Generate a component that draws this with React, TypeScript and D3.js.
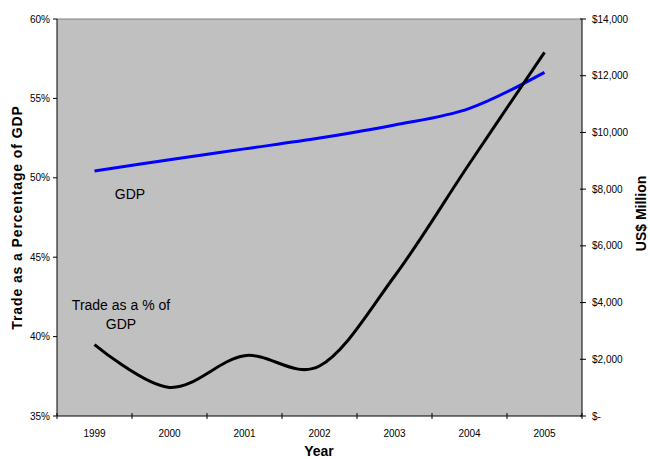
import React from "react";
import * as d3 from "d3";

const years = ["1999", "2000", "2001", "2002", "2003", "2004", "2005"];
// Trade as a percentage of GDP (left axis, %)
const tradePct = [39.5, 36.8, 38.8, 38.15, 43.8, 50.9, 57.9];
// GDP in US$ million (right axis)
const gdpMillion = [8640, 9040, 9420, 9800, 10260, 10850, 12120];
const leftTicks = [35, 40, 45, 50, 55, 60];
const rightTicks = [0, 2000, 4000, 6000, 8000, 10000, 12000, 14000];

const W = 650;
const H = 459;
const plot = { left: 57, right: 582, top: 19, bottom: 416 };
const FONT = "'Liberation Sans', Arial, sans-serif";

export default function App() {
  const x = d3.scaleBand<string>().domain(years).range([plot.left, plot.right]);
  const cx = (y: string) => (x(y) as number) + x.bandwidth() / 2;
  const yL = d3.scaleLinear().domain([35, 60]).range([plot.bottom, plot.top]);
  const yR = d3.scaleLinear().domain([0, 14000]).range([plot.bottom, plot.top]);

  const curve = d3.curveCatmullRom.alpha(0);
  const tradeLine = d3
    .line<number>()
    .x((_, i) => cx(years[i]))
    .y((d) => yL(d))
    .curve(curve);
  const gdpLine = d3
    .line<number>()
    .x((_, i) => cx(years[i]))
    .y((d) => yR(d))
    .curve(curve);

  const fmtMoney = (v: number) => (v === 0 ? "$-" : "$" + d3.format(",")(v));
  const xTicks = [...years.map((y) => x(y) as number), plot.right];

  return (
    <svg
      width={W}
      height={H}
      style={{ position: "absolute", left: 0, top: 0, background: "#fff" }}
      fontFamily={FONT}
    >
      {/* plot area */}
      <rect
        x={plot.left}
        y={plot.top}
        width={plot.right - plot.left}
        height={plot.bottom - plot.top}
        fill="#C0C0C0"
      />
      <line x1={plot.left} x2={plot.right} y1={plot.top} y2={plot.top} stroke="#808080" strokeWidth={1} />

      {/* left axis */}
      <line x1={plot.left} x2={plot.left} y1={plot.top} y2={plot.bottom} stroke="#000" />
      {leftTicks.map((t) => (
        <g key={"l" + t}>
          <line x1={plot.left - 4} x2={plot.left} y1={yL(t)} y2={yL(t)} stroke="#000" />
          <text x={plot.left - 7} y={yL(t)} dy="0.35em" textAnchor="end" fontSize={10} fill="#000">
            {t}%
          </text>
        </g>
      ))}

      {/* right axis */}
      <line x1={plot.right} x2={plot.right} y1={plot.top} y2={plot.bottom} stroke="#000" />
      {rightTicks.map((t) => (
        <g key={"r" + t}>
          <line x1={plot.right - 2} x2={plot.right + 4} y1={yR(t)} y2={yR(t)} stroke="#000" />
          <text x={plot.right + 10} y={yR(t)} dy="0.35em" textAnchor="start" fontSize={10} fill="#000">
            {fmtMoney(t)}
          </text>
        </g>
      ))}

      {/* bottom axis */}
      <line x1={plot.left} x2={plot.right} y1={plot.bottom} y2={plot.bottom} stroke="#000" />
      {xTicks.map((t, i) => (
        <line key={"xt" + i} x1={t} x2={t} y1={plot.bottom - 3} y2={plot.bottom + 3} stroke="#000" />
      ))}
      {years.map((y) => (
        <text key={"xl" + y} x={cx(y)} y={437} textAnchor="middle" fontSize={10} fill="#000">
          {y}
        </text>
      ))}

      {/* series */}
      <path d={gdpLine(gdpMillion) || ""} fill="none" stroke="#0000FF" strokeWidth={3} />
      <path d={tradeLine(tradePct) || ""} fill="none" stroke="#000" strokeWidth={3} />

      {/* series labels */}
      <text x={130} y={199} textAnchor="middle" fontSize={14} fill="#000">
        GDP
      </text>
      <text x={121} y={310} textAnchor="middle" fontSize={14} fill="#000">
        Trade as a % of
      </text>
      <text x={121} y={329} textAnchor="middle" fontSize={14} fill="#000">
        GDP
      </text>

      {/* axis titles */}
      <text x={319} y={456} textAnchor="middle" fontSize={14} fontWeight="bold" fill="#000">
        Year
      </text>
      <text
        transform={`translate(22,${(plot.top + plot.bottom) / 2}) rotate(-90)`}
        textAnchor="middle"
        fontSize={14}
        fontWeight="bold"
        letterSpacing={0.9}
        fill="#000"
      >
        Trade as a Percentage of GDP
      </text>
      <text
        transform={`translate(646,${(plot.top + plot.bottom) / 2 - 4}) rotate(-90)`}
        textAnchor="middle"
        fontSize={14}
        fontWeight="bold"
        fill="#000"
      >
        US$ Million
      </text>
    </svg>
  );
}
